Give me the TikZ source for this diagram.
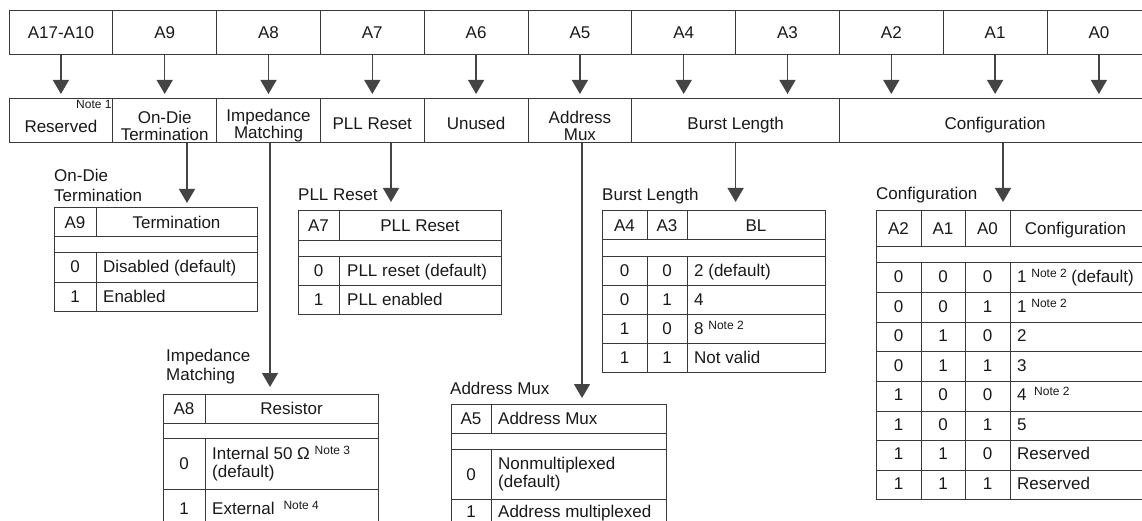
\documentclass[tikz,border=0pt]{standalone}
\usepackage{fontspec}
\setmainfont{Liberation Sans}
\usetikzlibrary{arrows.meta}
\definecolor{linegray}{HTML}{3A3A3A}
\definecolor{arrowgray}{HTML}{444444}
\newcommand{\notefont}{\fontsize{12}{12}\selectfont}
\newcommand{\notesup}[1]{\raisebox{5pt}{\notefont #1}}
\begin{document}
\begin{tikzpicture}[x=1pt, y=-1pt,
  font=\fontsize{17}{19}\selectfont, text=black!90,
  cell/.style={draw=linegray, line width=1pt, minimum height=44pt, inner sep=0pt, outer sep=0pt},
  regcell/.style={cell, text height=18pt, text depth=0pt},
  regtwo/.style={cell, label={[align=center, yshift=-5pt, font=\fontsize{17}{17}\selectfont]center:#1}},
  arr/.style={draw=arrowgray, line width=1.3pt, -{Triangle[width=16pt, length=14pt]}},
  grid/.style={draw=linegray, line width=1pt},
  val/.style={inner sep=0pt, text height=12pt, text depth=0pt},
  desc/.style={val, anchor=west},
  ttl/.style={anchor=west, inner sep=0pt, align=left, font=\fontsize{17}{20}\selectfont}
]
\useasboundingbox (0,0) rectangle (1142,521);
\clip (0,0) rectangle (1142,521);

% address bits
\foreach \lbl/\nm [count=\i from 0] in {A17-A10/a17,A9/a9,A8/a8,A7/a7,A6/a6,A5/a5,A4/a4,A3/a3,A2/a2,A1/a1,A0/a0}
  \node[cell, minimum width=103.8pt] (\nm) at ({60.9+103.8*\i},33) {\lbl};

% register fields
\node[cell, minimum width=103.8pt, text height=24pt, text depth=0pt,
  label={[inner sep=1pt, anchor=north east, font=\notefont]north east:Note 1}] (rsv) at (60.9,121) {Reserved};
\node[regtwo={On-Die\\Termination}, minimum width=103.8pt] (odt) at (164.7,121) {};
\node[regtwo={Impedance\\Matching}, minimum width=103.8pt] (imp) at (268.5,121) {};
\node[regcell, minimum width=103.8pt] (pll) at (372.3,121) {PLL Reset};
\node[regcell, minimum width=103.8pt] (unused) at (476.1,121) {Unused};
\node[regtwo={Address\\Mux}, minimum width=103.8pt] (amux) at (579.9,121) {};
\node[regcell, minimum width=207.6pt] (burst) at (735.6,121) {Burst Length};
\node[regcell, minimum width=311.4pt] (config) at (995.1,121) {Configuration};

\foreach \nm/\reg in {a17/rsv,a9/odt,a8/imp,a7/pll,a6/unused,a5/amux,a4/burst,a3/burst,a2/config,a1/config,a0/config}
  \draw[arr, shorten >=5pt] (\nm.south) -- (\nm.south |- \reg.north);

% arrow ends above the tables
\coordinate (odtTip) at (187,203);
\coordinate (impTip) at (270,387);
\coordinate (pllTip) at (391,202);
\coordinate (amuxTip) at (582,398);
\coordinate (burstTip) at (735.6,202);
\coordinate (configTip) at (1003,202);
\foreach \reg in {odt,imp,pll,amux,burst,config}
  \draw[arr] (\reg.south -| \reg Tip) -- (\reg Tip);

% on-die termination
\node[ttl] (odtTitle) at (54,185) {On-Die\\Termination};
\draw[grid] (54,208) rectangle (257,311);
\foreach \y in {237,252,282} \draw[grid] (54,\y) -- (257,\y);
\draw[grid] (96,208) -- (96,237) (96,252) -- (96,311);
\node[val] (odtHa) at (75,222.5) {A9};
\node[val] (odtHb) at (176.5,222.5) {Termination};
\foreach \v/\t [count=\r] in {0/Disabled (default),1/Enabled} {
  \node[val] (odtBit\r) at (75,{237.25+29.5*\r}) {\v};
  \node[desc] (odtVal\r) at (103,{237.25+29.5*\r}) {\t};
}

% pll reset
\node[ttl] (pllTitle) at (298,195) {PLL Reset};
\draw[grid] (298,211) rectangle (501,314);
\foreach \y in {241,256,285} \draw[grid] (298,\y) -- (501,\y);
\draw[grid] (339,211) -- (339,241) (339,256) -- (339,314);
\node[val] (pllHa) at (318.5,226) {A7};
\node[val] (pllHb) at (420,226) {PLL Reset};
\foreach \v/\t [count=\r] in {0/PLL reset (default),1/PLL enabled} {
  \node[val] (pllBit\r) at (318.5,{241.5+29*\r}) {\v};
  \node[desc] (pllVal\r) at (347,{241.5+29*\r}) {\t};
}

% burst length
\node[ttl] (burstTitle) at (602,196) {Burst Length};
\draw[grid] (602,211) rectangle (825,372);
\foreach \y in {240,256,285,314,343} \draw[grid] (602,\y) -- (825,\y);
\draw[grid] (647,211) -- (647,240) (647,256) -- (647,372)
  (687,211) -- (687,240) (687,256) -- (687,372);
\node[val] (burstHa) at (624.5,225.5) {A4};
\node[val] (burstHb) at (667,225.5) {A3};
\node[val] (burstHc) at (756,225.5) {BL};
\foreach \a/\b/\t [count=\r] in {0/0/2 (default),0/1/4,1/0/8 \notesup{Note 2},1/1/Not valid} {
  \node[val] (burstA\r) at (624.5,{241.5+29*\r}) {\a};
  \node[val] (burstB\r) at (667,{241.5+29*\r}) {\b};
  \node[desc] (burstVal\r) at (694,{241.5+29*\r}) {\t};
}

% configuration
\node[ttl] (configTitle) at (876,195) {Configuration};
\draw[grid] (1150,211) -- (876,211) -- (876,499) -- (1150,499);
\foreach \y in {247,262,292,322,351,381,411,440,470} \draw[grid] (876,\y) -- (1150,\y);
\foreach \x in {921,965,1010} \draw[grid] (\x,211) -- (\x,247) (\x,262) -- (\x,499);
\node[val] (configHa) at (898.5,229) {A2};
\node[val] (configHb) at (943,229) {A1};
\node[val] (configHc) at (987.5,229) {A0};
\node[val] (configHd) at (1075.5,229) {Configuration};
\foreach \a/\b/\c/\t [count=\r] in {0/0/0/1 \notesup{Note 2} (default),0/0/1/1 \notesup{Note 2},0/1/0/2,0/1/1/3,
  1/0/0/4\, \notesup{Note 2},1/0/1/5,1/1/0/Reserved,1/1/1/Reserved} {
  \node[val] (configA\r) at (898.5,{247.25+29.5*\r}) {\a};
  \node[val] (configB\r) at (943,{247.25+29.5*\r}) {\b};
  \node[val] (configC\r) at (987.5,{247.25+29.5*\r}) {\c};
  \node[desc] (configVal\r) at (1017,{247.25+29.5*\r}) {\t};
}

% impedance matching
\node[ttl, font=\fontsize{17}{19}\selectfont] (impTitle) at (166,366.5) {Impedance\\Matching};
\draw[grid] (163,540) -- (163,394) -- (378,394) -- (378,540);
\foreach \y in {423,438,489} \draw[grid] (163,\y) -- (378,\y);
\draw[grid] (205,394) -- (205,423) (205,438) -- (205,540);
\node[val] (impHa) at (184,408.5) {A8};
\node[val] (impHb) at (291.5,408.5) {Resistor};
\node[val] (impBit1) at (184,463.5) {0};
\node[anchor=west, inner sep=0pt, align=left, font=\fontsize{17}{18}\selectfont] (impVal1) at (212,463.5)
  {Internal 50 Ω \notesup{Note 3}\\(default)};
\node[val] (impBit2) at (184,508) {1};
\node[desc] (impVal2) at (212,508) {External\hspace{9pt}\notesup{Note 4}};

% address mux
\node[ttl] (amuxTitle) at (450,388) {Address Mux};
\draw[grid] (451,540) -- (451,404) -- (666,404) -- (666,540);
\foreach \y in {433,449,499} \draw[grid] (451,\y) -- (666,\y);
\draw[grid] (491,404) -- (491,433) (491,449) -- (491,540);
\node[val] (amuxHa) at (471,418.5) {A5};
\node[desc] (amuxHb) at (498,418.5) {Address Mux};
\node[val] (amuxBit1) at (471,474) {0};
\node[anchor=west, inner sep=0pt, align=left, font=\fontsize{17}{18}\selectfont] (amuxVal1) at (498,474)
  {Nonmultiplexed\\(default)};
\node[val] (amuxBit2) at (471,511) {1};
\node[desc] (amuxVal2) at (498,511) {Address multiplexed};
\end{tikzpicture}
\end{document}
